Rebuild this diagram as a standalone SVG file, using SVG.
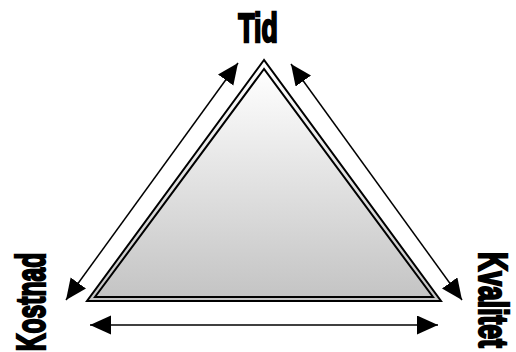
<svg xmlns="http://www.w3.org/2000/svg" width="516" height="352" viewBox="0 0 516 352">
<style>
.lbl{font-family:"Liberation Sans",Arial,sans-serif;font-weight:bold;font-size:41px;fill:#000;stroke:#000;stroke-width:2.4;text-anchor:middle}
.sm{font-size:40px}
.tri{stroke:#000;stroke-width:2;fill:url(#g);stroke-linejoin:miter}
.conn{stroke:#000;stroke-width:1.5;fill:none;marker-start:url(#ah);marker-end:url(#ah)}
</style>
<defs>
<linearGradient id="g" x1="0" y1="0" x2="0" y2="1">
<stop offset="0" stop-color="#ffffff"/>
<stop offset="1" stop-color="#c4c4c4"/>
</linearGradient>
<marker id="ah" markerUnits="userSpaceOnUse" markerWidth="22" markerHeight="20" refX="21" refY="9.5" orient="auto-start-reverse" viewBox="0 0 22 20">
<path d="M0,0 L21,9.5 L0,19 z" fill="#000"/>
</marker>
</defs>
<g id="triangle">
<polygon class="tri" points="264,60 87,301 441,301"/>
<polygon class="tri" points="264,69 95,297 433,297"/>
</g>
<g id="connectors">
<line class="conn" x1="66" y1="300" x2="238" y2="63"/>
<line class="conn" x1="291" y1="64" x2="462" y2="300"/>
<line class="conn" x1="90" y1="325" x2="438" y2="325"/>
</g>
<g id="tid"><text class="lbl" transform="translate(258,42) scale(0.65,1)">Tid</text></g>
<g id="kostnad"><text class="lbl" transform="translate(45,302) rotate(-90) scale(0.6,1)">Kostnad</text></g>
<g id="kvalitet"><text class="lbl sm" transform="translate(479,300) rotate(90) scale(0.664,1)">Kvalitet</text></g>
</svg>
